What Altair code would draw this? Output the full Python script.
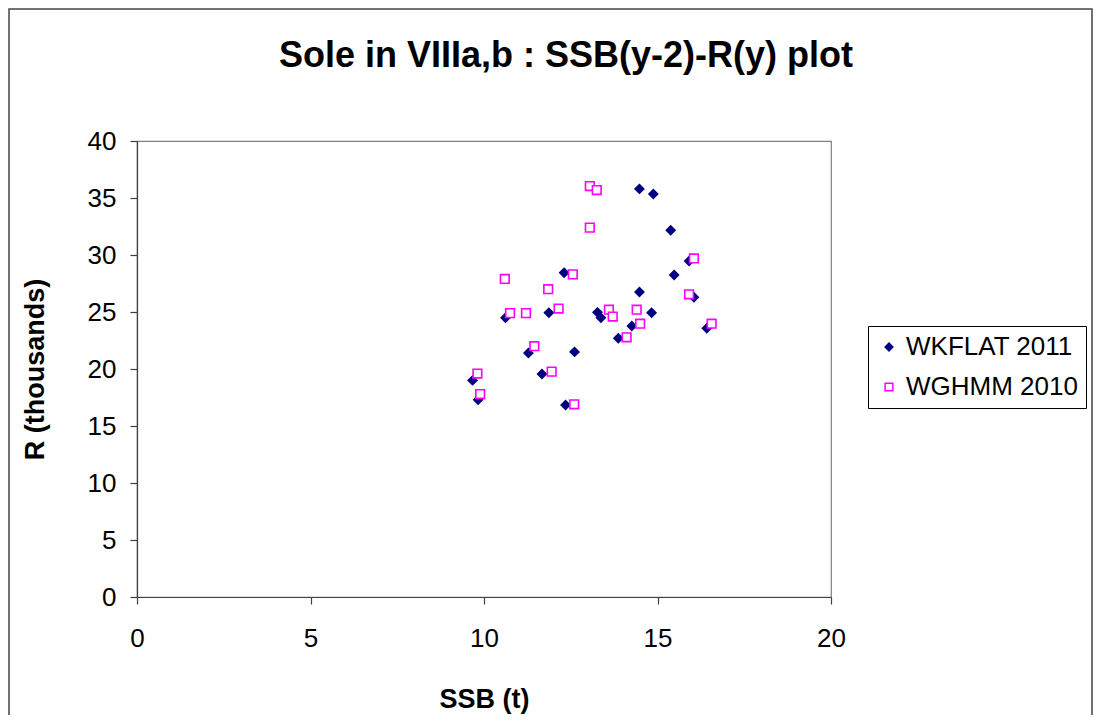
import altair as alt
import pandas as pd

# WKFLAT 2011 (SSB(y-2) in t, R(y) in thousands)
wk_ssb = [12.31, 10.62, 11.87, 11.28, 12.61, 9.67, 11.67, 9.83, 12.35,
          14.48, 14.88, 15.38, 15.91, 15.48, 14.48, 16.05, 13.27, 13.37,
          14.83, 14.26, 13.87, 16.42]
wk_r = [28.45, 24.5, 24.94, 21.4, 21.5, 19.0, 19.56, 17.3, 16.84,
        35.8, 35.35, 32.17, 29.47, 28.25, 26.75, 26.3, 24.97, 24.5,
        24.94, 23.77, 22.69, 23.57]

# WGHMM 2010
wg_ssb = [12.56, 10.6, 11.85, 10.75, 11.21, 12.15, 11.45, 9.81, 11.95, 9.89,
          12.6, 13.05, 13.25, 13.05, 16.05, 15.91, 13.6, 13.71, 14.4, 14.5,
          14.11, 16.56]
wg_r = [28.3, 27.9, 27.0, 24.9, 24.9, 25.3, 22.0, 19.6, 19.77, 17.8,
        16.9, 36.05, 35.7, 32.4, 29.7, 26.55, 25.2, 24.6, 25.2, 23.97,
        22.78, 23.97]

series = ["WKFLAT 2011", "WGHMM 2010"]
x_ticks = [0, 5, 10, 15, 20]
y_ticks = [0, 5, 10, 15, 20, 25, 30, 35, 40]

df = pd.DataFrame({
    "ssb": wk_ssb + wg_ssb,
    "r": wk_r + wg_r,
    "series": [series[0]] * len(wk_ssb) + [series[1]] * len(wg_ssb),
})

FONT = "Liberation Sans"

points = alt.Chart(df).mark_point(size=75, strokeWidth=1.6, opacity=1, clip=False).encode(
    x=alt.X("ssb:Q", scale=alt.Scale(domain=[0, 20], nice=False),
            axis=alt.Axis(values=x_ticks, title="SSB (t)", grid=False,
                          tickSize=7, labelPadding=21, labelFontSize=26,
                          labelFlush=False,
                          titleFontSize=27, titleFontWeight="bold",
                          titleY=102, titleBaseline="middle")),
    y=alt.Y("r:Q", scale=alt.Scale(domain=[0, 40], nice=False),
            axis=alt.Axis(values=y_ticks, title="R (thousands)", grid=False,
                          tickSize=7, labelPadding=14, labelFontSize=26,
                          labelFlush=False,
                          titleFontSize=27, titleFontWeight="bold",
                          titleAngle=-90, titleX=-102, titleY=228,
                          titleAlign="center", titleBaseline="middle")),
    shape=alt.Shape("series:N", scale=alt.Scale(domain=series, range=["diamond", "square"]),
                    legend=alt.Legend(title=None)),
    fill=alt.Fill("series:N", scale=alt.Scale(domain=series, range=["#000080", "white"]),
                  legend=alt.Legend(title=None)),
    stroke=alt.Stroke("series:N", scale=alt.Scale(domain=series, range=["#000080", "#FF00FF"]),
                      legend=alt.Legend(title=None)),
)

frame = alt.Chart(pd.DataFrame({"a": [0]})).mark_rect(
    fill=None, stroke="#444444", strokeWidth=1.5, clip=False
).encode(
    x=alt.value(-128), x2=alt.value(955),
    y=alt.value(-132), y2=alt.value(600),
)

chart = alt.layer(frame, points).properties(
    width=694, height=456,
    title=alt.TitleParams(
        "Sole in VIIIa,b : SSB(y-2)-R(y) plot",
        fontSize=36, fontWeight="bold", font=FONT, color="black",
        anchor="middle", dx=82, offset=0, dy=95, baseline="alphabetic",
    ),
    autosize=alt.AutoSizeParams(type="none"),
    padding={"left": 129, "top": 133, "right": 262, "bottom": 118},
).configure(
    font=FONT,
    background="white",
).configure_view(
    stroke="#808080", strokeWidth=1.2,
).configure_axis(
    labelFont=FONT, titleFont=FONT, labelColor="black", titleColor="black",
    domainColor="#404040", tickColor="#404040", domainWidth=1.2, tickWidth=1.2,
).configure_legend(
    orient="none", legendX=731, legendY=185,
    strokeColor="black", strokeWidth=1, fillColor="white",
    padding=8, rowPadding=14, labelFontSize=26, labelFont=FONT,
    labelColor="black", symbolSize=60, labelOffset=4, symbolStrokeWidth=1.5,
    labelLimit=400,
)

chart.save("out.html", embed_options={"renderer": "svg", "actions": False})
